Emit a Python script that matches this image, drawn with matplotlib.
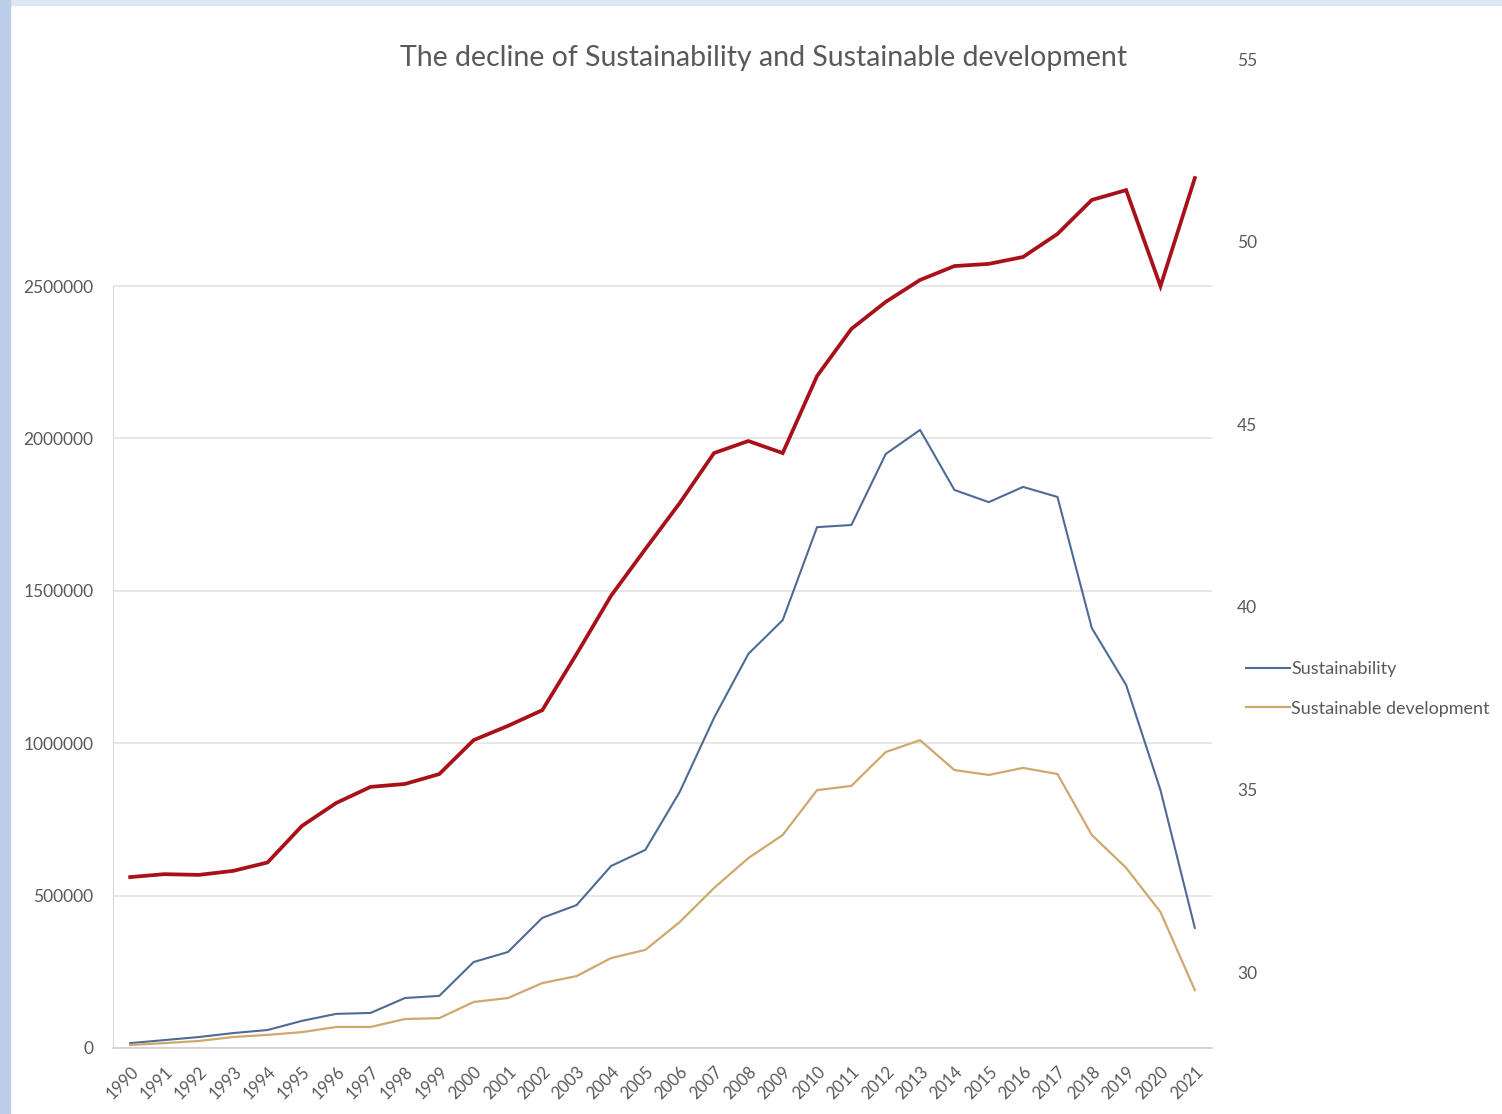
import numpy as np
import matplotlib.pyplot as plt
from matplotlib.patches import Rectangle

plt.rcParams['font.family'] = ['Lato', 'DejaVu Sans']

years = [str(y) for y in range(1990, 2022)]

sustainability = [16000, 26000, 36000, 49000, 59000, 89000, 112000, 115000,
                  164000, 171000, 282000, 315000, 427000, 469000, 597000, 650000,
                  840000, 1083000, 1293000, 1404000, 1709000, 1716000, 1949000, 2028000,
                  1831000, 1791000, 1841000, 1808000, 1378000, 1191000, 846000, 394000]

sust_dev = [10000, 16000, 23000, 36000, 43000, 52000, 69000, 69000,
            95000, 98000, 151000, 164000, 213000, 236000, 295000, 322000,
            413000, 525000, 623000, 699000, 846000, 860000, 971000, 1010000,
            912000, 896000, 919000, 899000, 699000, 591000, 446000, 190000]

# red series on the secondary axis
red_series = [32.6, 32.68, 32.66, 32.77, 33.0, 34.0, 34.63, 35.07,
              35.15, 35.42, 36.35, 36.74, 37.17, 38.71, 40.3, 41.58,
              42.84, 44.21, 44.54, 44.21, 46.32, 47.61, 48.35, 48.95,
              49.33, 49.39, 49.58, 50.21, 51.14, 51.41, 48.78, 51.74]

left_ticks = [0, 500000, 1000000, 1500000, 2000000, 2500000]
right_ticks = [30, 35, 40, 45, 50, 55]

txt = '#595959'
x = np.arange(len(years))

fig = plt.figure(figsize=(15.02, 11.14), dpi=100)
fig.patches.append(Rectangle((0, 1 - 5 / 1114), 1, 5 / 1114, transform=fig.transFigure,
                             color='#dde6f3', zorder=0))
fig.patches.append(Rectangle((0, 0), 10 / 1502, 1, transform=fig.transFigure,
                             color='#bccdea', zorder=0))

ax = fig.add_axes([113 / 1502, 66 / 1114, 1099 / 1502, 989 / 1114])
ax.set_xlim(-0.5, len(years) - 0.5)
ax.set_ylim(0, 3245000)
ax.set_yticks(left_ticks)
ax.set_yticklabels([str(v) for v in left_ticks])
ax.yaxis.grid(True, color='#e3e3e3', linewidth=1.2)
ax.set_axisbelow(True)
for s in ['top', 'right']:
    ax.spines[s].set_visible(False)
ax.spines['left'].set_bounds(0, 2500000)
ax.spines['left'].set_color('#d9d9d9')
ax.spines['bottom'].set_color('#d0d0d0')
ax.spines['bottom'].set_linewidth(1.2)
ax.tick_params(axis='both', length=0, labelcolor=txt)
ax.tick_params(axis='y', pad=14, labelsize=12.5)
ax.set_xticks(x)
ax.set_xticklabels(years, rotation=45, ha='right', rotation_mode='anchor')
ax.tick_params(axis='x', pad=11, labelsize=12)

l1, = ax.plot(x, sustainability, color='#4f6b94', linewidth=1.5, label='Sustainability',
              solid_joinstyle='round')
l2, = ax.plot(x, sust_dev, color='#cfa86e', linewidth=1.6, label='Sustainable development',
              solid_joinstyle='round')

ax2 = ax.twinx()
ax2.set_ylim(27.92, 55)
ax2.set_yticks(right_ticks)
ax2.set_yticklabels([str(v) for v in right_ticks])
for s in ax2.spines.values():
    s.set_visible(False)
ax2.tick_params(axis='y', length=0, labelcolor=txt, labelsize=12.5, pad=18)
ax2.plot(x, red_series, color='#a8111a', linewidth=2.7, solid_joinstyle='miter')

fig.text(764 / 1502, 1 - 58 / 1114, 'The decline of Sustainability and Sustainable development',
         ha='center', va='center', fontsize=20.5, color=txt)

fig.legend(handles=[l1, l2], loc='center left', bbox_to_anchor=(1230 / 1502, 1 - 689 / 1114),
           frameon=False, fontsize=13, labelcolor=txt, handlelength=2.4, handletextpad=0.1,
           labelspacing=1.3)

plt.savefig('out.png', dpi=100)
